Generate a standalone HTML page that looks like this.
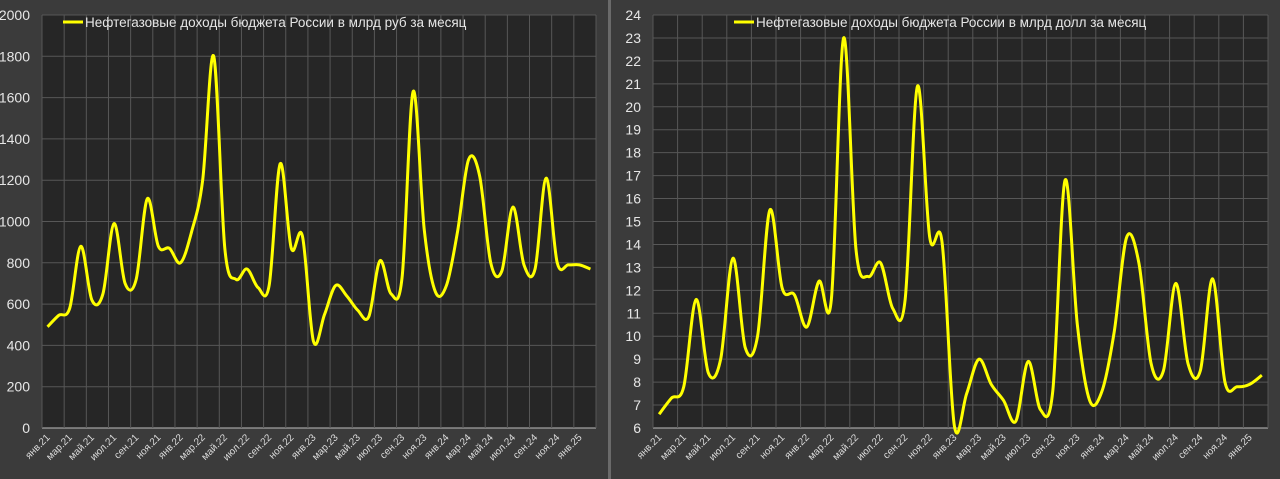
<!DOCTYPE html>
<html><head><meta charset="utf-8">
<style>
html,body{margin:0;padding:0;background:#3b3b3b;}
svg{display:block;font-family:"Liberation Sans",sans-serif;}
</style></head>
<body>
<svg id="c" width="1280" height="479">
<rect x="0" y="0" width="1280" height="479" fill="#3b3b3b"/>
<rect x="608" y="0" width="3" height="479" fill="#6a6a6a"/>
</svg>
<script>
const months = ["янв.21","фев.21","мар.21","апр.21","май.21","июн.21","июл.21","авг.21","сен.21","окт.21","ноя.21","дек.21","янв.22","фев.22","мар.22","апр.22","май.22","июн.22","июл.22","авг.22","сен.22","окт.22","ноя.22","дек.22","янв.23","фев.23","мар.23","апр.23","май.23","июн.23","июл.23","авг.23","сен.23","окт.23","ноя.23","дек.23","янв.24","фев.24","мар.24","апр.24","май.24","июн.24","июл.24","авг.24","сен.24","окт.24","ноя.24","дек.24","янв.25","фев.25"];
const rubValues = [490,545,580,880,620,650,990,700,720,1110,880,870,800,950,1200,1800,870,720,770,680,690,1280,870,930,420,550,690,640,570,540,810,650,730,1630,960,660,690,950,1300,1220,800,760,1070,790,770,1210,800,790,790,770];
const usdValues = [6.6,7.3,7.8,11.6,8.4,9.0,13.4,9.5,10.0,15.5,12.1,11.8,10.4,12.4,11.6,23.0,13.8,12.6,13.2,11.2,11.6,20.9,14.3,14.1,6.1,7.5,9.0,7.9,7.2,6.3,8.9,6.8,7.6,16.8,10.5,7.2,7.6,10.2,14.3,13.2,8.8,8.5,12.3,8.8,8.5,12.5,8.0,7.8,7.9,8.3];
const rubTicks = [0,200,400,600,800,1000,1200,1400,1600,1800,2000];
const usdTicks = [6,7,8,9,10,11,12,13,14,15,16,17,18,19,20,21,22,23,24];
const rubLegend = "Нефтегазовые доходы бюджета России в млрд руб за месяц";
const usdLegend = "Нефтегазовые доходы бюджета России в млрд долл за месяц";

const NS="http://www.w3.org/2000/svg";
const svg=document.getElementById('c');
function mk(tag,attrs,parent){const e=document.createElementNS(NS,tag);for(const k in attrs)e.setAttribute(k,attrs[k]);(parent||svg).appendChild(e);return e;}

function drawChart(cfg){
  const g=mk('g',{});
  
  
  const {x0,x1,y0,y1,min,max}=cfg;
  const n=cfg.cats.length, bw=(x1-x0)/n;
  const xs=i=>x0+bw*(i+0.5);
  const ys=v=>y1-(v-min)/(max-min)*(y1-y0);
  const bg=mk('rect',{x:x0,y:y0,width:x1-x0,height:y1-y0,fill:'#262626'},g);
  
  
  cfg.ticks.forEach(t=>{
    const y=ys(t);
    const l=mk('line',{x1:x0,x2:x1,y1:y,y2:y,stroke:t===min?'#bdbdbd':'#575757','stroke-width':1},g);
    
    
    const tx=mk('text',{x:cfg.labelX,y:y+5,'text-anchor':'end',fill:'#e6e6e6','font-size':14},g);
    
    
    tx.textContent=t;
  });
  for(let k=0;k<=n;k+=2){
    const x=x0+bw*k;
    const l=mk('line',{x1:x,x2:x,y1:y0,y2:y1,stroke:'#575757','stroke-width':1},g);
    
    
  }
  for(let i=0;i<n;i+=2){
    const x=xs(i)+3,y=y1+10;
    const tx=mk('text',{x:x,y:y,'text-anchor':'end',fill:'#dcdcdc','font-size':10,transform:`rotate(-45 ${x} ${y})`},g);
    
    
    tx.textContent=cfg.cats[i];
  }
  const pts=cfg.values.map((v,i)=>[xs(i),ys(v)]);
  let d=`M${pts[0][0]},${pts[0][1]}`;
  for(let i=0;i<pts.length-1;i++){
    const p0=pts[Math.max(0,i-1)],p1=pts[i],p2=pts[i+1],p3=pts[Math.min(pts.length-1,i+2)];
    const c1=[p1[0]+(p2[0]-p0[0])/6,p1[1]+(p2[1]-p0[1])/6];
    const c2=[p2[0]-(p3[0]-p1[0])/6,p2[1]-(p3[1]-p1[1])/6];
    d+=` C${c1[0]},${c1[1]} ${c2[0]},${c2[1]} ${p2[0]},${p2[1]}`;
  }
  const path=mk('path',{d:d,fill:'none',stroke:'#ffff00','stroke-width':3,'stroke-linejoin':'round'},g);
  
  
  const lg=mk('line',{x1:cfg.legX,x2:cfg.legX+20,y1:22,y2:22,stroke:'#ffff00','stroke-width':3},g);
  
  
  const lt=mk('text',{x:cfg.legX+22,y:27,fill:'#e6e6e6','font-size':13.5},g);
  
  
  lt.textContent=cfg.legend;
}
drawChart({name:'rub-chart',cats:months,values:rubValues,ticks:rubTicks,min:0,max:2000,x0:42,x1:596,y0:15,y1:428,labelX:30,legX:63,legend:rubLegend});
drawChart({name:'usd-chart',cats:months,values:usdValues,ticks:usdTicks,min:6,max:24,x0:653,x1:1268,y0:15,y1:428,labelX:641,legX:734,legend:usdLegend});
</script>
</body></html>
